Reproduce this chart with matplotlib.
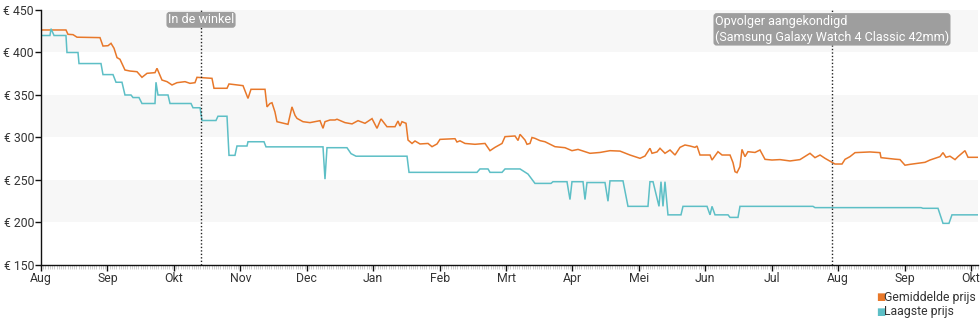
import matplotlib
matplotlib.use("Agg")
import matplotlib.pyplot as plt
from matplotlib.ticker import MultipleLocator, FixedLocator

plt.rcParams['font.family'] = ['Roboto', 'DejaVu Sans']

# x positions in months since Aug (0 = Aug, 14 = Okt next year)
month_labels = ["Aug", "Sep", "Okt", "Nov", "Dec", "Jan", "Feb", "Mrt", "Apr",
                "Mei", "Jun", "Jul", "Aug", "Sep", "Okt"]
y_ticks = [150, 200, 250, 300, 350, 400, 450]

avg_x = [0.00, 0.376, 0.406, 0.482, 0.542, 0.888, 0.933, 1.009, 1.054, 1.099, 1.144,
         1.189, 1.264, 1.340, 1.445, 1.520, 1.596, 1.716, 1.746, 1.776, 1.821, 1.897,
         1.972, 2.047, 2.168, 2.243, 2.318, 2.348, 2.574, 2.604, 2.800, 2.830, 3.041,
         3.086, 3.116, 3.161, 3.372, 3.402, 3.447, 3.477, 3.522, 3.552, 3.718, 3.778,
         3.824, 3.854, 3.944, 4.049, 4.200, 4.245, 4.275, 4.350, 4.426, 4.456, 4.576,
         4.682, 4.772, 4.877, 4.983, 5.058, 5.118, 5.208, 5.329, 5.374, 5.404, 5.434,
         5.495, 5.525, 5.585, 5.630, 5.705, 5.826, 5.886, 5.961, 6.006, 6.232, 6.262,
         6.307, 6.383, 6.533, 6.684, 6.759, 6.834, 6.940, 6.985, 7.135, 7.181, 7.211,
         7.286, 7.316, 7.361, 7.391, 7.436, 7.512, 7.587, 7.737, 7.888, 7.993, 8.084,
         8.264, 8.415, 8.565, 8.716, 8.866, 9.017, 9.092, 9.167, 9.198, 9.273, 9.318,
         9.393, 9.469, 9.544, 9.619, 9.694, 9.770, 9.845, 9.875, 9.920, 10.071, 10.101,
         10.191, 10.252, 10.372, 10.417, 10.447, 10.477, 10.522, 10.552, 10.597, 10.642,
         10.748, 10.823, 10.899, 11.004, 11.124, 11.275, 11.425, 11.576, 11.651, 11.727,
         11.802, 11.847, 11.952, 12.058, 12.103, 12.178, 12.254, 12.479, 12.630, 12.645,
         12.855, 12.931, 13.006, 13.081, 13.307, 13.382, 13.533, 13.578, 13.623, 13.683,
         13.759, 13.804, 13.909, 13.955, 14.105]
avg_price = [426.5, 426.5, 421.4, 421, 418, 417.5, 407.6, 408, 410.8, 405, 394,
             392, 379.4, 378.2, 377.4, 370.8, 375.5, 376.3, 381.4, 376, 367.6, 365.7,
             361.8, 364.5, 365.7, 363.7, 364.5, 370.8, 369.6, 357.9, 357.9, 363, 361,
             352, 346, 356.7, 356.7, 336, 340, 340.9, 330, 318.6, 315.5, 336,
             326, 322.5, 318.6, 317.5, 319.8, 310.8, 318.6, 320.6, 320.6, 321.5, 317.5,
             316, 319.8, 316.7, 322.2, 310.8, 321.8, 312.7, 312.7, 319.4, 313.5, 318.6,
             316.7, 297, 293, 295.9, 292.4, 293, 289.2, 292.4, 297.8, 298.6, 294.7,
             296.1, 293, 292, 293, 284.5, 288.4, 293, 301, 301.8, 296.5, 303.7,
             297, 292, 293, 300, 299, 296.3, 295, 289.2, 288, 284.5, 286,
             281.4, 282.4, 284.5, 284, 279.4, 275.5, 278.2, 287.3, 281.4, 283, 287.3,
             281.4, 285.3, 279.4, 288.4, 291.2, 290, 288.4, 290, 279.4, 279.4, 273.5,
             283.3, 279.4, 279.4, 270.4, 259.8, 258.6, 265.7, 286, 277.5, 283.3,
             282.4, 285.3, 274.3, 273.5, 274, 272.4, 274, 281.4, 276.3, 279.4,
             275.5, 273.5, 268.8, 268.8, 274.3, 277.5, 282.2, 283, 282.2, 276.3,
             274.5, 274, 267.4, 268.4, 270.8, 273.5, 277.5, 282.2, 276.7, 278,
             274, 277.5, 284.5, 276.7, 276.7]

low_x = [0.000, 0.135, 0.151, 0.196, 0.376, 0.391, 0.557, 0.572, 0.903, 0.933, 1.084,
         1.129, 1.219, 1.264, 1.355, 1.385, 1.475, 1.520, 1.716, 1.731, 1.761, 1.912,
         1.942, 2.258, 2.288, 2.394, 2.424, 2.634, 2.664, 2.800, 2.830, 2.920, 2.950,
         3.101, 3.116, 3.357, 3.387, 4.245, 4.275, 4.305, 4.606, 4.667, 4.742, 5.510,
         5.540, 6.563, 6.608, 6.729, 6.759, 6.940, 6.985, 7.211, 7.331, 7.436, 7.677,
         7.707, 7.918, 7.963, 7.993, 8.159, 8.189, 8.219, 8.490, 8.535, 8.565, 8.761,
         8.836, 9.137, 9.167, 9.213, 9.303, 9.333, 9.363, 9.393, 9.438, 9.634, 9.664,
         10.026, 10.071, 10.101, 10.146, 10.342, 10.372, 10.492, 10.522, 11.621, 11.651,
         13.247, 13.277, 13.503, 13.578, 13.668, 13.713, 14.105]
low_price = [420, 420, 428, 420, 420, 400, 400, 387, 387, 374, 374,
             365, 365, 350, 350, 347, 347, 340, 340, 365, 350, 350,
             340, 340, 335, 335, 320, 320, 325, 325, 279, 279, 290,
             290, 295, 295, 289, 289, 251, 288, 288, 281, 278, 278,
             259, 259, 263, 263, 259, 259, 263, 263, 257, 246, 246,
             248, 248, 227, 248, 248, 227, 247, 247, 225, 249, 249,
             219, 219, 248, 248, 219, 248, 219, 248, 209, 209, 219,
             219, 209, 219, 209, 209, 206, 206, 219, 219, 217.5,
             217.5, 216.7, 216.7, 199, 199, 209, 209]

events_x = [2.409, 11.907]
events_text = ["In de winkel", "Opvolger aangekondigd\n(Samsung Galaxy Watch 4 Classic 42mm)"]

series_names = ["Gemiddelde prijs", "Laagste prijs"]
orange = "#E8782A"
teal = "#5DBFC6"

fig = plt.figure(figsize=(9.8, 3.25), dpi=100)
ax = fig.add_axes([41 / 980, 60 / 325, 937 / 980, 255 / 325])

ax.set_xlim(0, 14.105)
ax.set_ylim(150, 450)

for lo in (200, 300, 400):
    ax.axhspan(lo, lo + 50, color="#f7f7f7", zorder=0, lw=0)

ax.plot(avg_x, avg_price, color=orange, lw=1.1, zorder=3, solid_joinstyle="miter")
ax.plot(low_x, low_price, color=teal, lw=1.1, zorder=3, solid_joinstyle="miter")

for ex, et, top in zip(events_x, events_text, (0.987, 0.982)):
    ax.axvline(ex, color="#222222", lw=1, ls=(0, (1, 1.5)), zorder=4)
    ax.text(ex, top, et, transform=ax.get_xaxis_transform(), ha="center", va="top",
            multialignment="left", color="white", fontsize=9.0, zorder=5, linespacing=1.3,
            bbox=dict(boxstyle="round,pad=0.06,rounding_size=0.2", fc="#9e9e9e", ec="#9e9e9e"))

ax.set_yticks(y_ticks)
ax.set_yticklabels([f"€ {v}" for v in y_ticks])
ax.xaxis.set_major_locator(FixedLocator(range(len(month_labels))))
ax.set_xticklabels(month_labels)
ax.xaxis.set_minor_locator(MultipleLocator(1 / 30))

for s in ("top", "right"):
    ax.spines[s].set_visible(False)
for s in ("left", "bottom"):
    ax.spines[s].set_color("#111111")
    ax.spines[s].set_linewidth(1)
    ax.spines[s].set_zorder(6)

ax.tick_params(axis="both", which="major", length=4, width=1, color="#111111",
               labelsize=8.8, labelcolor="#333333", pad=1)
ax.tick_params(axis="x", which="minor", length=3, width=0.5, color="#bbbbbb")

# legend
for i, (name, col) in enumerate(zip(series_names, [orange, teal])):
    yy = 1 - (297 + 15 * i) / 325
    fig.text(876 / 980, yy, "■", color=col, fontsize=7, va="center", ha="left",
             family=["DejaVu Sans"])
    fig.text(884 / 980, yy, name, color="#333333", fontsize=8.8, va="center", ha="left")

fig.savefig("out.png", dpi=100)
